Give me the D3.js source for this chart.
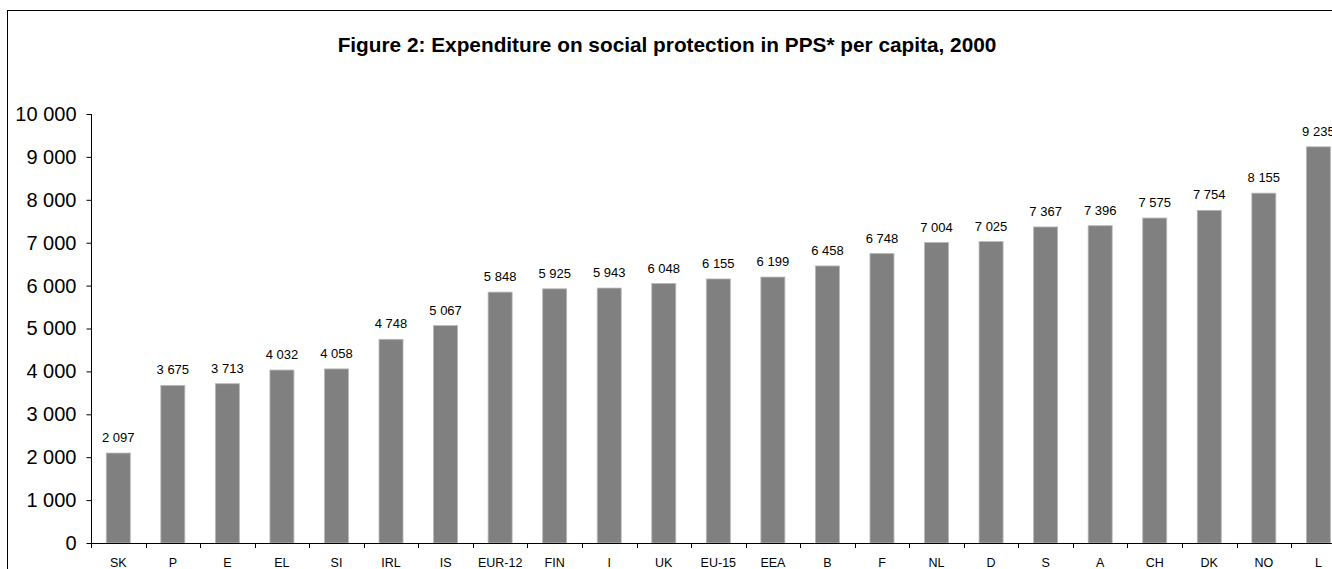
<!DOCTYPE html>
<html><head><meta charset="utf-8">
<script src="https://cdn.jsdelivr.net/npm/d3@7"></script>
<style>body{margin:0;background:#fff;}svg{display:block;font-family:"Liberation Sans",Arial,sans-serif;}</style>
</head><body>
<svg id="c" width="1332" height="569"></svg>
<script>
const categories = ["SK","P","E","EL","SI","IRL","IS","EUR-12","FIN","I","UK","EU-15","EEA","B","F","NL","D","S","A","CH","DK","NO","L"];
const values = [2097,3675,3713,4032,4058,4748,5067,5848,5925,5943,6048,6155,6199,6458,6748,7004,7025,7367,7396,7575,7754,8155,9235];
const yTicks = [0,1000,2000,3000,4000,5000,6000,7000,8000,9000,10000];
const title = "Figure 2: Expenditure on social protection in PPS* per capita, 2000";

(function(){
const svg = d3.select("#c");
const fmt = v => d3.format(",")(v).replace(/,/g, " ");

svg.append("rect").attr("x",7.5).attr("y",10.5).attr("width",1400).attr("height",700)
  .attr("fill","none").attr("stroke","#000").attr("stroke-width",1);

svg.append("text").attr("x",667).attr("y",52).attr("text-anchor","middle")
  .attr("font-weight","bold").attr("font-size",20.8).text(title);

const mLeft = 91, mBottom = 543, mTop = 114;
const bw = 54.55;
const x = d3.scaleBand().domain(categories).range([mLeft, mLeft + categories.length*bw]).paddingInner(0.56).paddingOuter(0.28);
const y = d3.scaleLinear().domain([0,10000]).range([mBottom, mTop]);

svg.selectAll("rect.bar").data(values).enter().append("rect").attr("class","bar")
  .attr("x",(d,i)=>x(categories[i])).attr("width",x.bandwidth())
  .attr("y",d=>y(d)).attr("height",d=>mBottom-y(d))
  .attr("fill","#808080").attr("stroke","#b8b8b8").attr("stroke-width",0.8);

svg.selectAll("text.val").data(values).enter().append("text").attr("class","val")
  .attr("x",(d,i)=>x(categories[i])+x.bandwidth()/2).attr("y",d=>y(d)-11)
  .attr("text-anchor","middle").attr("font-size",13).text(d=>fmt(d));

const yAxis = d3.axisLeft(y).tickValues(yTicks).tickSize(5).tickPadding(10).tickFormat(fmt);
const gy = svg.append("g").attr("transform",`translate(${mLeft+0.5},0)`).call(yAxis);
gy.selectAll("text").attr("font-size",20).attr("font-family","Liberation Sans, Arial, sans-serif").attr("fill","#000");
gy.selectAll("line,path").attr("stroke","#000");
gy.select("path").attr("d",`M0,${mTop}V${mBottom}`);

const gx = svg.append("g");
gx.append("line").attr("x1",mLeft).attr("x2",1332).attr("y1",mBottom+0.5).attr("y2",mBottom+0.5).attr("stroke","#000");
gx.selectAll("line.t").data(d3.range(categories.length)).enter().append("line").attr("class","t")
  .attr("x1",i=>Math.round(mLeft+i*bw)+0.5).attr("x2",i=>Math.round(mLeft+i*bw)+0.5)
  .attr("y1",mBottom).attr("y2",mBottom+5).attr("stroke","#000");
const xAxis = d3.axisBottom(x).tickSize(0).tickPadding(15);
const gxl = svg.append("g").attr("transform",`translate(0,${mBottom})`).call(xAxis);
gxl.select("path").remove();
gxl.selectAll("text").attr("font-size",12.5).attr("font-family","Liberation Sans, Arial, sans-serif").attr("fill","#000");
})();
</script>
</body></html>
